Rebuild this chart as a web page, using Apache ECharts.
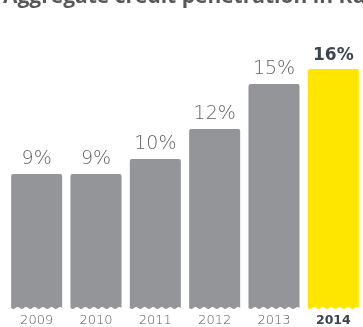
<!DOCTYPE html>
<html>
<head>
<meta charset="utf-8">
<script src="https://cdn.jsdelivr.net/npm/echarts@6/dist/echarts.min.js"></script>
<style>html,body{margin:0;padding:0;background:#fff}#c{width:363px;height:327px}</style>
</head>
<body>
<div id="c"></div>
<script>
const titleText = 'Aggregate credit penetration in Russia';
const years = ['2009', '2010', '2011', '2012', '2013', '2014'];
const penetration = [9, 9, 10, 12, 15, 16];
const highlightYear = '2014';

const GRAY = '#939598';
const YELLOW = '#ffe600';
const LABEL_GRAY = '#626366';
const YEAR_GRAY = '#58595b';
const DARK = '#3c4450';

const chart = echarts.init(document.getElementById('c'), null, {renderer: 'canvas'});

function barPath(x0, x1, y0, y1, r, waves, amp) {
  let d = `M${x0} ${y1} L${x0} ${y0 + r} Q${x0} ${y0} ${x0 + r} ${y0} L${x1 - r} ${y0} Q${x1} ${y0} ${x1} ${y0 + r} L${x1} ${y1}`;
  const seg = (x1 - x0) / waves;
  for (let i = 0; i < waves; i++) {
    const xa = x1 - seg * i;
    const xm = xa - seg / 2;
    const xb = xa - seg;
    d += ` Q${xa - seg / 4} ${y1 - amp} ${xm} ${y1}`;
    d += ` Q${xm - seg / 4} ${y1 + amp} ${xb} ${y1}`;
  }
  d += ' Z';
  return d;
}

chart.setOption({
  animation: false,
  grid: {left: 7, right: -7, top: 9, bottom: 16, containLabel: false},
  graphic: [{
    type: 'text', z: 10,
    style: {text: titleText, x: 3, y: -3, verticalAlign: 'middle',
      font: 'bold 21px "Open Sans", sans-serif', fill: '#58595b'}
  }],
  xAxis: {
    type: 'category', data: years,
    axisLine: {show: false}, axisTick: {show: false},
    axisLabel: {
      margin: 5,
      formatter: v => v === highlightYear ? '{b|' + v + '}' : '{n|' + v + '}',
      rich: {
        n: {fontSize: 13, color: YEAR_GRAY, fontFamily: '"DejaVu Sans ExtraLight", "DejaVu Sans"', fontWeight: 200},
        b: {fontSize: 12.5, color: DARK, fontFamily: '"DejaVu Sans"', fontWeight: 'bold'}
      }
    }
  },
  yAxis: {type: 'value', min: 0, max: 20, show: false, splitLine: {show: false}},
  series: [{
    type: 'custom',
    data: penetration.map((v, i) => [i, v]),
    renderItem: function (params, api) {
      const i = api.value(0), v = api.value(1);
      const top = api.coord([i, v]);
      const base = api.coord([i, 0]);
      const w = api.size([1, 0])[0] * 0.86;
      const x0 = top[0] - w / 2, x1 = top[0] + w / 2;
      const hl = years[i] === highlightYear;
      return {
        type: 'group',
        children: [{
          type: 'path',
          shape: {pathData: barPath(x0, x1, top[1], base[1] - 1, 2, 6, 2)},
          style: {fill: hl ? YELLOW : GRAY}
        }, {
          type: 'text',
          style: {
            text: v + '%', x: top[0], y: top[1] - 5,
            align: 'center', verticalAlign: 'bottom',
            font: hl ? 'bold 17px "DejaVu Sans", sans-serif' : '200 19px "DejaVu Sans ExtraLight", "DejaVu Sans", sans-serif',
            fill: hl ? DARK : LABEL_GRAY
          }
        }]
      };
    }
  }]
});
</script>
</body>
</html>
